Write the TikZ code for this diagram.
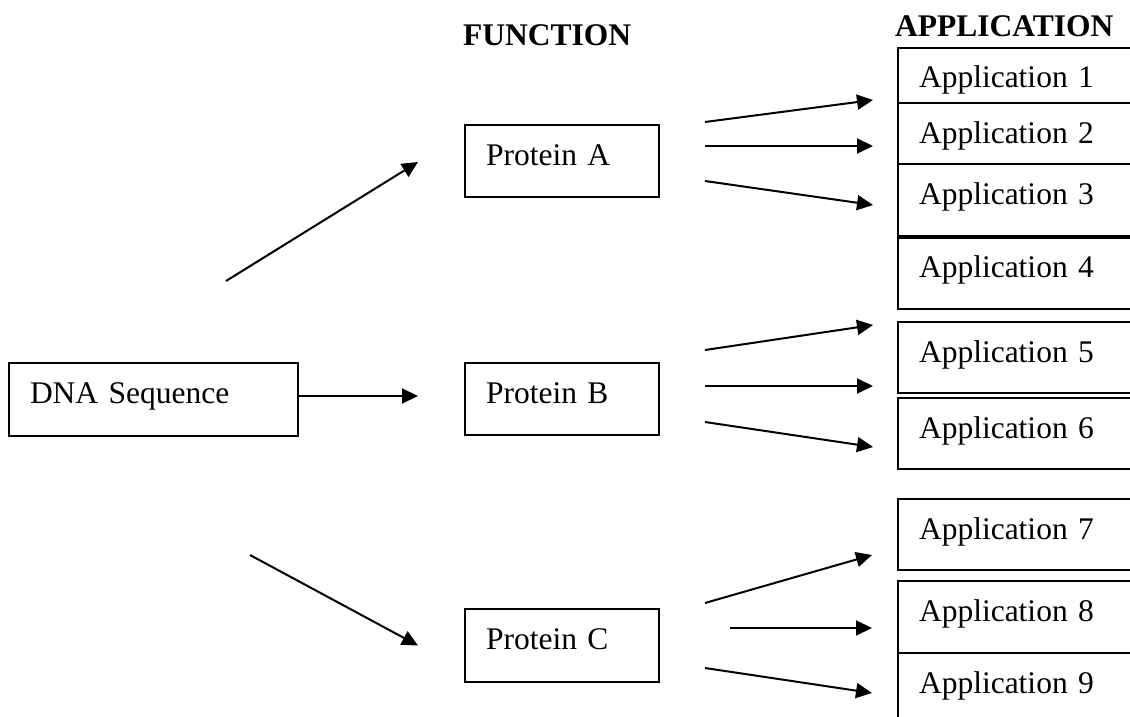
\documentclass[tikz,border=0pt]{standalone}
\usepackage{fontspec}
\setmainfont{Liberation Serif}
\usetikzlibrary{arrows.meta,calc}
\begin{document}
\begin{tikzpicture}[x=1pt,y=-1pt,
  box/.style={draw, line width=1.9pt, outer sep=0pt, anchor=north west, inner xsep=21pt, inner ysep=0pt,
    text height=40pt, align=left, font=\fontsize{31.5}{38}\selectfont},
  appbox/.style={box, text width=250pt},
  protbox/.style={box, text width=152pt, text depth=32pt},
  arr/.style={line width=2pt, -{Triangle[length=16pt,width=15pt]}},
  head/.style={anchor=base west, inner sep=0pt, font=\fontsize{31.5}{38}\selectfont\bfseries}]
\clip (0,0) rectangle (1130,717);
\fill[white] (0,0) rectangle (1130,717);

% headers
\node[head] (fn) at (463,46) {FUNCTION};
\node[head] (ap) at (895,37) {APPLICATION};

% application boxes
\node[appbox, text depth=15pt] (a1) at (898,48)  {Application 1};
\node[appbox, text depth=21pt] (a2) at (898,103) {Application 2};
\node[appbox, text depth=33pt] (a3) at (898,164) {Application 3};
\node[appbox, text depth=32pt] (a4) at (898,237) {Application 4};
\node[appbox, text depth=31pt] (a5) at (898,322) {Application 5};
\node[appbox, text depth=31pt] (a6) at (898,398) {Application 6};
\node[appbox, text depth=31pt] (a7) at (898,499) {Application 7};
\node[appbox, text depth=32pt] (a8) at (898,581) {Application 8};
\node[appbox, text depth=40pt] (a9) at (898,653) {Application 9};
\draw[line width=3.2pt] (a3.south west) -- (a3.south east);

% protein boxes
\node[protbox] (pA) at (465,125) {Protein A};
\node[protbox] (pB) at (465,363) {Protein B};
\node[protbox, text depth=33pt] (pC) at (465,609) {Protein C};

% DNA box
\node[box, text width=247pt, text depth=33pt] (dna) at (9,363) {DNA Sequence};

% DNA -> proteins
\draw[arr] ($(dna.north east)+(-72,-82)$) -- ($(pA.west)+(-47,1)$);
\draw[arr] ($(dna.east)+(0,-3.5)$) -- ($(pB.west)+(-47,-3)$);
\draw[arr] ($(dna.south east)+(-48,119)$) -- ($(pC.west)+(-47,0)$);

% Protein A -> applications
\draw[arr] ($(pA.east)+(46,-39)$) -- ($(a1.south west)+(-25,-3)$);
\draw[arr] ($(pA.east)+(46,-15)$) -- ($(a2.west)+(-25,12.5)$);
\draw[arr] ($(pA.east)+(46,20)$) -- ($(a3.west)+(-25,4.5)$);

% Protein B -> applications
\draw[arr] ($(pB.east)+(46,-49)$) -- ($(a5.north west)+(-25,3)$);
\draw[arr] ($(pB.east)+(46,-13)$) -- ($(a5.south west)+(-25,-7)$);
\draw[arr] ($(pB.east)+(46,23)$) -- ($(a6.west)+(-25,13.5)$);

% Protein C -> applications
\draw[arr] ($(pC.east)+(46,-42.5)$) -- ($(a7.west)+(-26,20.5)$);
\draw[arr] ($(pC.east)+(71,-17.5)$) -- ($(a8.west)+(-26,11)$);
\draw[arr] ($(pC.east)+(46,22.5)$) -- ($(a9.north west)+(-26,40)$);
\end{tikzpicture}
\end{document}
